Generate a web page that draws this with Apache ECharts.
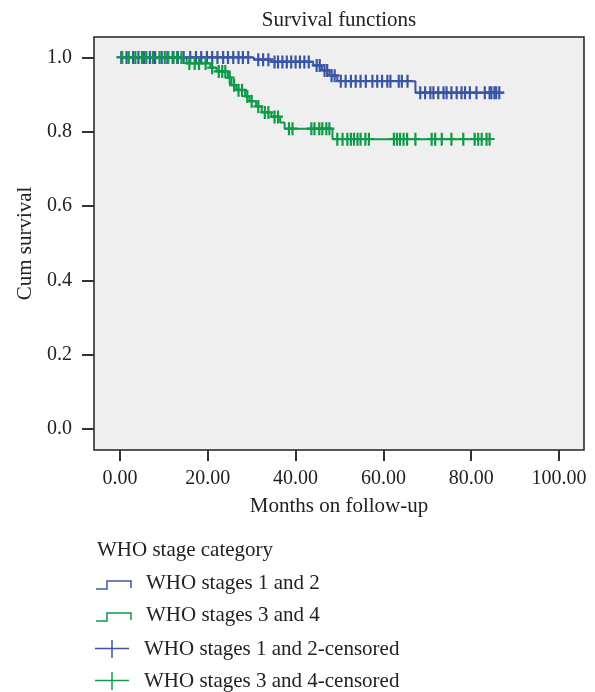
<!DOCTYPE html>
<html>
<head>
<meta charset="utf-8">
<title>Survival functions</title>
<script src="https://cdn.jsdelivr.net/npm/echarts@6/dist/echarts.min.js"></script>
<style>
  html, body { margin: 0; padding: 0; background: #fff; }
  #chart { width: 595px; height: 692px; }
</style>
</head>
<body>
<div id="chart"></div>
<script>
// tick labels
const xTicks = [0, 20, 40, 60, 80, 100];
const yTicks = [0, 0.2, 0.4, 0.6, 0.8, 1.0];

// WHO stages 1 and 2: step times (months) and cum survival after each step
const stage12Times = [0, 30.5, 34.5, 44.0, 46.0, 47.7, 49.5, 67.3];
const stage12Surv = [1.0, 0.994, 0.988, 0.978, 0.965, 0.951, 0.936, 0.905];
const stage12End = 87.5;
const stage12Censored = [
  0.3, 1.5, 3.0, 4.2, 5.5, 6.8, 8.0, 9.5, 10.8, 12.0, 13.2, 14.5, 16.0, 17.3,
  18.5, 19.8, 21.0, 22.2, 23.5, 24.6, 25.8, 27.0, 28.0, 29.2, 31.5, 32.6, 33.8,
  35.2, 36.0, 37.0, 38.0, 39.0, 40.0, 41.0, 42.0, 43.0, 44.8, 45.5, 46.6, 47.2,
  48.2, 48.9, 50.3, 51.4, 52.6, 53.7, 54.8, 56.0, 57.5, 58.6, 59.7, 60.9, 61.6,
  63.5, 64.2, 65.5, 68.4, 69.5, 70.7, 71.4, 72.5, 73.7, 74.4, 75.5, 76.7, 77.8,
  78.6, 79.7, 81.2, 83.1, 84.2, 84.6, 85.3, 85.7, 86.4
];

// WHO stages 3 and 4
const stage34Times = [0, 15.2, 20.6, 22.0, 24.6, 25.4, 26.5, 28.5, 29.5, 31.0, 32.3, 34.5, 36.5, 37.5, 48.4];
const stage34Surv = [1.0, 0.984, 0.972, 0.962, 0.945, 0.925, 0.912, 0.895, 0.882, 0.868, 0.852, 0.84, 0.825, 0.808, 0.78];
const stage34End = 84.5;
const stage34Censored = [
  0.5, 2.0, 3.5, 5.0, 6.0, 7.5, 9.0, 10.2, 11.0, 12.2, 13.0, 14.0, 15.8, 17.0,
  18.0, 19.5, 21.0, 22.5, 23.3, 24.0, 25.0, 26.0, 27.0, 27.8, 29.0, 30.0, 31.5,
  33.0, 33.8, 35.2, 36.0, 38.5, 39.3, 43.6, 44.3, 45.4, 46.1, 47.0, 47.7, 49.5,
  50.7, 51.8, 52.6, 53.3, 54.1, 54.8, 55.9, 56.7, 62.4, 63.1, 63.8, 64.6, 65.4,
  67.3, 71.0, 71.8, 73.3, 75.5, 78.2, 80.8, 81.6, 82.4, 83.5, 84.2
];

const BLUE = "#3a55a6";
const GREEN = "#0e9a48";
const FONT = "Liberation Serif";
const PLUS = "path://M0,5.2h10v2.2h-10z M3.9,0h2.2v13h-2.2z";

function stepLine(times, surv, end) {
  const pts = times.map((t, i) => [t, surv[i]]);
  pts.push([end, surv[surv.length - 1]]);
  return pts;
}

// survival at censoring time
function censorPoints(times, surv, cens) {
  return cens.map(t => {
    let s = surv[0];
    for (let i = 0; i < times.length; i++) {
      if (times[i] <= t) s = surv[i];
    }
    return [t, s];
  });
}

const chart = echarts.init(document.getElementById("chart"));

const nameStyle = { fontFamily: FONT, fontSize: 21, color: "#222" };
const tickStyle = { fontFamily: FONT, fontSize: 20, color: "#222" };
const legendFont = "21px 'Liberation Serif'";

chart.setOption({
  animation: false,
  title: {
    text: "Survival functions",
    left: 334,
    top: 5,
    textAlign: "center",
    textStyle: { fontFamily: FONT, fontSize: 21, fontWeight: "normal", color: "#222" },
  },
  grid: {
    show: true,
    left: 94,
    top: 37,
    width: 490,
    height: 413,
    backgroundColor: "#efefef",
    borderColor: "#222",
    borderWidth: 1.5,
  },
  xAxis: {
    type: "value",
    min: -5.92,
    max: 105.7,
    name: "Months on follow-up",
    nameLocation: "middle",
    nameGap: 46,
    nameTextStyle: nameStyle,
    axisLine: { show: false, onZero: false },
    splitLine: { show: false },
    axisTick: {
      show: true,
      customValues: xTicks,
      length: 11,
      lineStyle: { color: "#333", width: 2 },
    },
    axisLabel: {
      customValues: xTicks,
      formatter: v => v.toFixed(2),
      margin: 19,
      ...tickStyle,
    },
  },
  yAxis: {
    type: "value",
    min: -0.0565,
    max: 1.055,
    name: "Cum survival",
    nameLocation: "middle",
    nameGap: 58,
    nameTextStyle: nameStyle,
    axisLine: { show: false, onZero: false },
    splitLine: { show: false },
    axisTick: {
      show: true,
      customValues: yTicks,
      length: 12,
      lineStyle: { color: "#333", width: 2 },
    },
    axisLabel: {
      customValues: yTicks,
      formatter: v => v.toFixed(1),
      margin: 22,
      ...tickStyle,
    },
  },
  series: [
    {
      name: "WHO stages 1 and 2",
      type: "line",
      step: "end",
      showSymbol: false,
      lineStyle: { color: BLUE, width: 2 },
      data: stepLine(stage12Times, stage12Surv, stage12End),
      z: 2,
    },
    {
      name: "WHO stages 3 and 4",
      type: "line",
      step: "end",
      showSymbol: false,
      lineStyle: { color: GREEN, width: 2 },
      data: stepLine(stage34Times, stage34Surv, stage34End),
      z: 2,
    },
    {
      name: "WHO stages 1 and 2-censored",
      type: "scatter",
      symbol: PLUS,
      symbolSize: [10, 13],
      itemStyle: { color: BLUE, opacity: 1 },
      data: censorPoints(stage12Times, stage12Surv, stage12Censored),
      z: 3,
    },
    {
      name: "WHO stages 3 and 4-censored",
      type: "scatter",
      symbol: PLUS,
      symbolSize: [10, 13],
      itemStyle: { color: GREEN, opacity: 1 },
      data: censorPoints(stage34Times, stage34Surv, stage34Censored),
      z: 4,
    },
  ],
  graphic: [
    { type: "text", left: 97, top: 540, style: { text: "WHO stage category", font: legendFont, fill: "#222" } },
    // step icons
    { type: "polyline", shape: { points: [[96, 589], [107, 589], [107, 581], [131, 581], [131, 588]] }, style: { stroke: BLUE, lineWidth: 1.5, fill: null } },
    { type: "polyline", shape: { points: [[96, 621], [107, 621], [107, 613], [131, 613], [131, 620]] }, style: { stroke: GREEN, lineWidth: 1.5, fill: null } },
    // censor icons
    { type: "line", shape: { x1: 95, y1: 648.5, x2: 129, y2: 648.5 }, style: { stroke: BLUE, lineWidth: 1.5 } },
    { type: "line", shape: { x1: 112, y1: 640, x2: 112, y2: 658 }, style: { stroke: BLUE, lineWidth: 1.5 } },
    { type: "line", shape: { x1: 95, y1: 680.5, x2: 129, y2: 680.5 }, style: { stroke: GREEN, lineWidth: 1.5 } },
    { type: "line", shape: { x1: 112, y1: 672, x2: 112, y2: 690 }, style: { stroke: GREEN, lineWidth: 1.5 } },
    { type: "text", left: 146, top: 573, style: { text: "WHO stages 1 and 2", font: legendFont, fill: "#222" } },
    { type: "text", left: 146, top: 605, style: { text: "WHO stages 3 and 4", font: legendFont, fill: "#222" } },
    { type: "text", left: 144, top: 639, style: { text: "WHO stages 1 and 2-censored", font: legendFont, fill: "#222" } },
    { type: "text", left: 144, top: 671, style: { text: "WHO stages 3 and 4-censored", font: legendFont, fill: "#222" } },
  ],
});
</script>
</body>
</html>
